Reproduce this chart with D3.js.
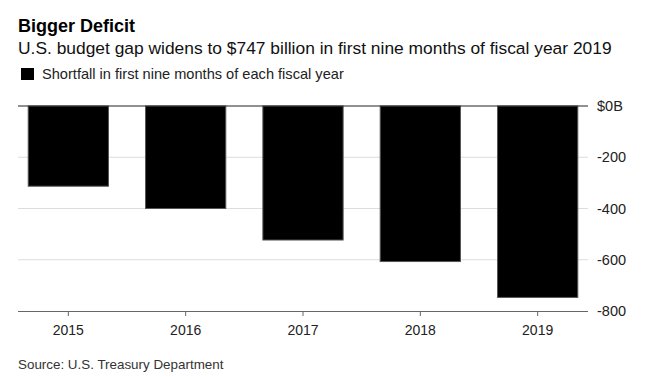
<!DOCTYPE html>
<html>
<head>
<meta charset="utf-8">
<script src="https://cdn.jsdelivr.net/npm/d3@7"></script>
<style>
  body { margin: 0; background: #fff; }
  svg { font-family: "Liberation Sans", Arial, sans-serif; }
</style>
</head>
<body>
<svg id="chart"></svg>
<script>
const years = ["2015", "2016", "2017", "2018", "2019"];
const deficits = [-313, -400, -523, -607, -747];
const yTicks = [0, -200, -400, -600, -800];

const width = 645;
const height = 377;
const margins = { top: 106, right: 57, bottom: 66, left: 18 };

const svg = d3.select("#chart").attr("width", width).attr("height", height);

svg.append("text").attr("x", 18).attr("y", 32)
  .attr("font-size", "18px").attr("font-weight", "bold").attr("fill", "#000")
  .text("Bigger Deficit");
svg.append("text").attr("x", 18).attr("y", 54)
  .attr("font-size", "17.4px").attr("fill", "#111")
  .text("U.S. budget gap widens to $747 billion in first nine months of fiscal year 2019");

// legend
svg.append("rect").attr("x", 21).attr("y", 68).attr("width", 13).attr("height", 12).attr("fill", "#000");
svg.append("text").attr("x", 42).attr("y", 79)
  .attr("font-size", "14.6px").attr("fill", "#222")
  .text("Shortfall in first nine months of each fiscal year");

const x = d3.scaleBand()
  .domain(years)
  .range([margins.left, width - margins.right])
  .paddingInner(0.316)
  .paddingOuter(0.087);

const y = d3.scaleLinear()
  .domain([0, -800])
  .range([margins.top, height - margins.bottom]);

// grid
svg.append("g")
  .selectAll("line")
  .data(yTicks.slice(1, -1))
  .join("line")
  .attr("x1", margins.left).attr("x2", width - margins.right)
  .attr("y1", (d) => y(d)).attr("y2", (d) => y(d))
  .attr("stroke", "#ddd").attr("stroke-width", 1);

// bars
svg.append("g")
  .selectAll("rect")
  .data(deficits)
  .join("rect")
  .attr("x", (d, i) => x(years[i]))
  .attr("width", x.bandwidth())
  .attr("y", y(0))
  .attr("height", (d) => y(d) - y(0))
  .attr("fill", "#000")
  .attr("stroke", "#555")
  .attr("stroke-width", 1);

// zero line
svg.append("line")
  .attr("x1", margins.left).attr("x2", width - margins.right)
  .attr("y1", y(0)).attr("y2", y(0))
  .attr("stroke", "#222").attr("stroke-width", 1);

// y axis labels on right
const yAxis = svg.append("g")
  .attr("transform", `translate(${width - margins.right}, 0)`)
  .call(d3.axisRight(y).tickValues(yTicks)
    .tickFormat((d) => (d === 0 ? "$0B" : d3.format("d")(d).replace("−", "-")))
    .tickSize(0).tickPadding(9));
yAxis.select(".domain").remove();
yAxis.selectAll("text").attr("font-size", "14.5px").attr("fill", "#222")
  .attr("font-family", "Liberation Sans, Arial, sans-serif");

// x axis at bottom
const xAxis = svg.append("g")
  .attr("transform", `translate(0, ${y(-800)})`)
  .call(d3.axisBottom(x).tickSize(5).tickPadding(9));
xAxis.select(".domain").attr("stroke", "#666")
  .attr("d", `M${margins.left},0.5H${width - margins.right}`);
xAxis.selectAll(".tick line").attr("stroke", "#666");
xAxis.selectAll("text").attr("font-size", "14px").attr("fill", "#222")
  .attr("font-family", "Liberation Sans, Arial, sans-serif");

svg.append("text").attr("x", 18).attr("y", 369)
  .attr("font-size", "13.4px").attr("fill", "#333")
  .text("Source: U.S. Treasury Department");
</script>
</body>
</html>
